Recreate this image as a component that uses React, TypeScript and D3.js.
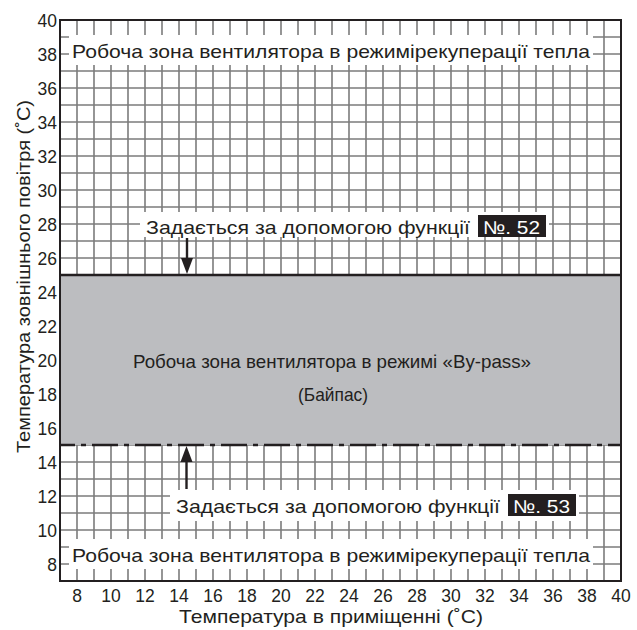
import React, { useEffect, useRef } from "react";
import * as d3 from "d3";

// ---- data ----
const xDomain = [7, 40];
const yDomain = [7, 40];
const xTicks = [8, 10, 12, 14, 16, 18, 20, 22, 24, 26, 28, 30, 32, 34, 36, 38, 40];
const yTicks = [8, 10, 12, 14, 16, 18, 20, 22, 24, 26, 28, 30, 32, 34, 36, 38, 40];
const bypassBand = [15, 25]; // [lower (set by №53), upper (set by №52)]
const arrowX = [14.5, 14.5];
const workZoneLabel = "Робоча зона вентилятора в режимірекуперації тепла";
const bypassLabel = ["Робоча зона вентилятора в режимі «By-pass»", "(Байпас)"];
const setByLabel = "Задається за допомогою функції";
const functionNumbers = ["№. 52", "№. 53"];
const xTitle = "Температура в приміщенні (˚C)";
const yTitle = "Температура зовнішнього повітря (˚C)";

const W = 637;
const H = 630;
const FONT = "'Liberation Sans', Arial, Helvetica, sans-serif";
const DARK = "#231f20";
const GRID = "#7b7b7b";

export default function App() {
  const ref = useRef<SVGSVGElement>(null);

  useEffect(() => {
    const svg = d3.select(ref.current);
    svg.selectAll("*").remove();

    const x = d3.scaleLinear().domain(xDomain).range([60, 621]);
    const y = d3.scaleLinear().domain(yDomain).range([581, 20]);

    const g = svg.append("g");

    const txt = (
      parent: d3.Selection<SVGGElement, unknown, null, undefined>,
      s: string,
      tx: number,
      ty: number,
      size: number,
      len?: number,
      anchor = "start",
      fill = DARK
    ) => {
      const t = parent
        .append("text")
        .attr("x", tx)
        .attr("y", ty)
        .attr("text-anchor", anchor)
        .attr("font-size", size)
        .attr("font-family", FONT)
        .attr("fill", fill)
        .text(s);
      if (len) t.attr("textLength", len).attr("lengthAdjust", "spacingAndGlyphs");
      return t;
    };

    // grid
    const gridVals = d3.range(xDomain[0], xDomain[1] + 1);
    g.selectAll("line.vx")
      .data(gridVals)
      .join("line")
      .attr("x1", (d) => x(d))
      .attr("x2", (d) => x(d))
      .attr("y1", y(yDomain[0]))
      .attr("y2", y(yDomain[1]))
      .attr("stroke", GRID)
      .attr("stroke-width", 1.6);
    const gridValsY = d3.range(yDomain[0], yDomain[1] + 1);
    g.selectAll("line.hy")
      .data(gridValsY)
      .join("line")
      .attr("x1", x(xDomain[0]))
      .attr("x2", x(xDomain[1]))
      .attr("y1", (d) => y(d))
      .attr("y2", (d) => y(d))
      .attr("stroke", GRID)
      .attr("stroke-width", 1.6);

    // bypass band
    g.append("rect")
      .attr("x", x(xDomain[0]))
      .attr("y", y(bypassBand[1]))
      .attr("width", x(xDomain[1]) - x(xDomain[0]))
      .attr("height", y(bypassBand[0]) - y(bypassBand[1]))
      .attr("fill", "#bcbdc0");
    g.append("line")
      .attr("x1", x(xDomain[0]))
      .attr("x2", x(xDomain[1]))
      .attr("y1", y(bypassBand[1]))
      .attr("y2", y(bypassBand[1]))
      .attr("stroke", DARK)
      .attr("stroke-width", 2.4);
    g.append("line")
      .attr("x1", x(xDomain[0]))
      .attr("x2", x(xDomain[1]))
      .attr("y1", y(bypassBand[0]))
      .attr("y2", y(bypassBand[0]))
      .attr("stroke", DARK)
      .attr("stroke-width", 2.4)
      .attr("stroke-dasharray", "26 6 5 6")
      .attr("stroke-dashoffset", 11);

    // band text
    txt(g, bypassLabel[0], 133, 368, 18.5, 398);
    txt(g, bypassLabel[1], 298, 401, 18.5, 70);

    // work zone labels (top & bottom)
    const workZoneBaselines = [58, 562];
    workZoneBaselines.forEach((by) => {
      const lg = g.append("g");
      lg.append("rect")
        .attr("fill", "#fff")
        .attr("x", 69)
        .attr("y", by - 23)
        .attr("width", 524)
        .attr("height", 30);
      txt(lg, workZoneLabel, 72, by, 18.5, 518);
    });

    // "set by function" labels
    const setLabels = [
      { base: 234, x0: 146, num: functionNumbers[0], top: 212, bot: 237 },
      { base: 513, x0: 176, num: functionNumbers[1], top: 490, bot: 521 },
    ];
    setLabels.forEach((s) => {
      const lg = g.append("g");
      const bx = s.x0 + 324 + 8;
      lg.append("rect")
        .attr("fill", "#fff")
        .attr("x", s.x0 - 6)
        .attr("y", s.top)
        .attr("width", bx + 68 + 3 - (s.x0 - 6))
        .attr("height", s.bot - s.top);
      lg.append("rect")
        .attr("fill", DARK)
        .attr("x", bx)
        .attr("y", s.base - 19)
        .attr("width", 68)
        .attr("height", 22);
      txt(lg, setByLabel, s.x0, s.base, 18.5, 324);
      txt(lg, s.num, bx + 5, s.base, 18.5, 57, "start", "#fff");
    });

    // arrows
    const arrow = (ax: number, yFrom: number, yTip: number) => {
      const dir = yTip > yFrom ? 1 : -1;
      const headLen = 16;
      g.append("line")
        .attr("x1", ax)
        .attr("x2", ax)
        .attr("y1", yFrom)
        .attr("y2", yTip - dir * headLen)
        .attr("stroke", DARK)
        .attr("stroke-width", 2.4);
      g.append("path")
        .attr(
          "d",
          `M${ax},${yTip} L${ax - 6},${yTip - dir * headLen} L${ax + 6},${yTip - dir * headLen} Z`
        )
        .attr("fill", DARK);
    };
    arrow(x(arrowX[0]) - 0.5, 238, y(bypassBand[1]) - 1);
    arrow(x(arrowX[1]) - 1, 489, y(bypassBand[0]) + 1);

    // border
    g.append("rect")
      .attr("x", x(xDomain[0]))
      .attr("y", y(yDomain[1]))
      .attr("width", x(xDomain[1]) - x(xDomain[0]))
      .attr("height", y(yDomain[0]) - y(yDomain[1]))
      .attr("fill", "none")
      .attr("stroke", DARK)
      .attr("stroke-width", 2);

    // tick labels
    g.selectAll("text.xt")
      .data(xTicks)
      .join("text")
      .attr("x", (d) => x(d))
      .attr("y", 602)
      .attr("text-anchor", "middle")
      .attr("font-size", 17.5)
      .attr("font-family", FONT)
      .attr("fill", DARK)
      .text((d) => d);
    g.selectAll("text.yt")
      .data(yTicks)
      .join("text")
      .attr("x", 57)
      .attr("y", (d) => y(d) + 6.5)
      .attr("text-anchor", "end")
      .attr("font-size", 17.5)
      .attr("font-family", FONT)
      .attr("fill", DARK)
      .text((d) => d);

    // axis titles
    txt(g, xTitle, 179, 623, 18.5, 304);
    const yt = g.append("g").attr("transform", `translate(30,453) rotate(-90)`);
    txt(yt, yTitle, 0, 0, 18.5, 353);
  }, []);

  return (
    <svg
      ref={ref}
      width={W}
      height={H}
      style={{ position: "absolute", left: 0, top: 0, background: "#fff" }}
    />
  );
}
